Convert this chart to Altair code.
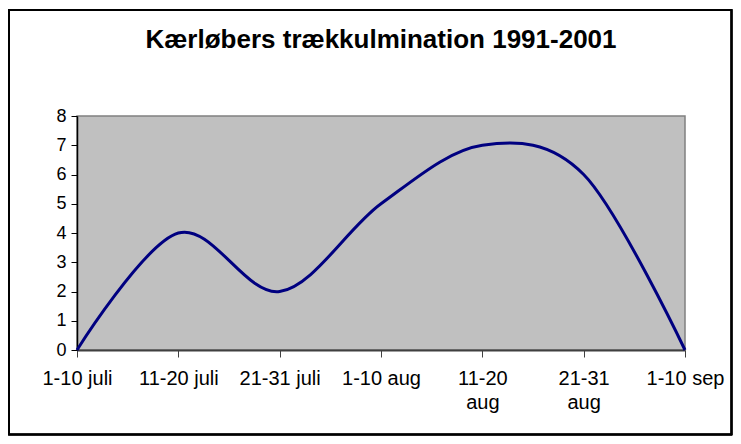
import altair as alt
import pandas as pd

categories = ["1-10 juli", "11-20 juli", "21-31 juli", "1-10 aug", "11-20 aug", "21-31 aug", "1-10 sep"]
values = [0, 4, 2, 5, 7, 6, 0]

df = pd.DataFrame({"periode": categories, "antal": values})

FONT = "Liberation Sans"

label_expr = ("datum.value == '11-20 aug' ? ['11-20', 'aug'] : "
              "datum.value == '21-31 aug' ? ['21-31', 'aug'] : datum.value")

line = alt.Chart(df).mark_line(
    color="#000080", strokeWidth=3, interpolate="cardinal", tension=0, clip=False
).encode(
    x=alt.X("periode:N", sort=categories,
            scale=alt.Scale(type="point", padding=0),
            axis=alt.Axis(title=None, labelAngle=0, labelExpr=label_expr,
                          labelFont=FONT, labelFontSize=20, labelColor="black",
                          labelPadding=11, labelLineHeight=24,
                          domainColor="#404040", domainWidth=2,
                          tickColor="#404040", tickSize=7, tickWidth=1,
                          labelBaseline="top")),
    y=alt.Y("antal:Q", scale=alt.Scale(domain=[0, 8], nice=False),
            axis=alt.Axis(title=None, values=list(range(0, 9)),
                          labelFont=FONT, labelFontSize=18, labelColor="black",
                          labelPadding=5, domainColor="black", domainWidth=1.5,
                          tickColor="black", tickSize=6, grid=False)),
)

border = alt.Chart(df).mark_rect(
    fill=None, stroke="black", strokeWidth=1.5, clip=False
).encode(
    x=alt.value(-68), x2=alt.value(654.5), y=alt.value(-106), y2=alt.value(318.5)
)

chart = alt.layer(border, line).properties(
    width=608, height=234,
    title=alt.TitleParams("Kærløbers trækkulmination 1991-2001",
                          font=FONT, fontSize=26, fontWeight="bold",
                          color="black", anchor="middle", offset=-44),
    autosize=alt.AutoSizeParams(type="none"),
    padding={"left": 69, "top": 108, "right": 48, "bottom": 86},
).configure_view(
    fill="#C0C0C0", stroke="#808080", strokeWidth=1.5
)

chart.save("out.html", embed_options={"renderer": "svg", "actions": False})
